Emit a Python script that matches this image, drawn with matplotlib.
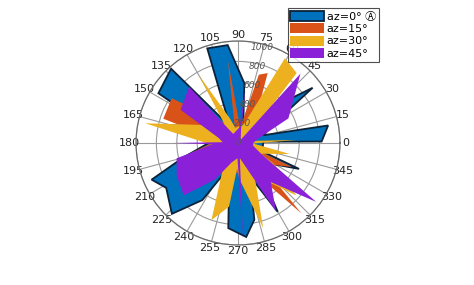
import numpy as np
import matplotlib
matplotlib.use('Agg')
import matplotlib.pyplot as plt
from matplotlib.patches import Patch

# vertices of each filled polygon: angle (deg) and radius
blue_theta = [3, 1, 11, 17, 30, 36.5, 42, 70, 84, 96, 108, 116, 132, 148, 152, 167, 175,
              195, 203, 212, 227, 238, 250, 263.5, 275, 282, 290, 300, 315, 337, 341]
blue_r = [250, 820, 900, 260, 450, 910, 600, 150, 590, 965, 975, 180, 980, 920, 350, 790, 250,
          560, 920, 830, 950, 660, 250, 840, 925, 770, 350, 780, 250, 650, 250]

orange_theta = [355, 30, 67, 73, 82, 97, 102, 146, 162, 172, 192, 200, 255, 300, 312, 318,
                336, 342]
orange_r = [150, 150, 745, 700, 150, 820, 150, 785, 770, 200, 470, 200, 300, 350, 930, 300,
            580, 150]

yellow_theta = [3, 8, 40, 50, 61, 72, 100, 108, 120, 125, 140, 143, 146, 150, 168, 178, 200,
                240, 251, 262, 268, 272, 286.5, 295, 302, 318, 330, 335, 348, 358]
yellow_r = [580, 150, 200, 895, 950, 200, 150, 250, 770, 250, 150, 700, 150, 350, 930, 350,
            150, 300, 800, 630, 250, 350, 870, 400, 400, 770, 400, 250, 520, 150]

purple_theta = [0, 12, 26, 48, 50, 78, 82, 86, 118, 131, 150, 165, 177, 180, 183, 194,
                208, 224, 238, 252, 268, 273, 277, 299, 310, 323, 335, 350]
purple_r = [150, 200, 550, 915, 40, 150, 520, 150, 100, 730, 650, 200, 150, 640, 250,
            620, 680, 740, 420, 200, 150, 950, 150, 770, 500, 960, 250, 150]

rticks = [0, 200, 400, 600, 800, 1000]
labels = ['az=0° \u24b6', 'az=15°', 'az=30°', 'az=45°']
colors = ['#0072BD', '#D95319', '#EDB120', '#8a20d8']

fig = plt.figure(figsize=(4.74, 2.85), dpi=100)
ax = fig.add_axes([0.2869, 0.1404, 0.4304, 0.7158], projection='polar')

series = [(blue_theta, blue_r), (orange_theta, orange_r),
          (yellow_theta, yellow_r), (purple_theta, purple_r)]
for i, (th, r) in enumerate(series):
    th = np.deg2rad(th + [th[0]])
    r = r + [r[0]]
    if i == 0:
        ax.fill(th, r, facecolor=colors[i], edgecolor='#0b2238', linewidth=1.3, zorder=2)
    else:
        ax.fill(th, r, facecolor=colors[i], edgecolor='none', zorder=2 + i)

ax.set_ylim(0, 1000)
ax.set_yticks(rticks)
ax.set_yticklabels([])
for v in rticks:
    ax.text(np.deg2rad(76), v * 0.96, str(v), fontsize=6.5, color='#555555',
            fontstyle='italic', ha='center', va='center', zorder=20)
ax.set_xticks(np.deg2rad(np.arange(0, 360, 15)))
ax.set_xticklabels([str(a) for a in range(0, 360, 15)], fontsize=8, color='#222222')
ax.tick_params(axis='x', pad=-6)
ax.grid(True, color='#9a9a9a', linewidth=0.8)
ax.set_axisbelow(True)
ax.spines['polar'].set_color('#6a6a6a')
ax.spines['polar'].set_linewidth(0.9)

handles = [Patch(facecolor=colors[0], edgecolor='#0b2238', linewidth=1.3)]
handles += [Patch(facecolor=c, edgecolor='none') for c in colors[1:]]
leg = fig.legend(handles, labels, loc='upper left', bbox_to_anchor=(0.607, 0.972),
                 prop={'family': ['DejaVu Sans', 'Noto Sans CJK JP'], 'size': 8},
                 frameon=True, fancybox=False, handlelength=3.0,
                 handleheight=1.0, handletextpad=0.25, labelspacing=0.15,
                 borderpad=0.25, borderaxespad=0)
leg.get_frame().set_edgecolor('#222222')
leg.get_frame().set_linewidth(0.8)

fig.savefig('out.png', dpi=100, facecolor='white')
